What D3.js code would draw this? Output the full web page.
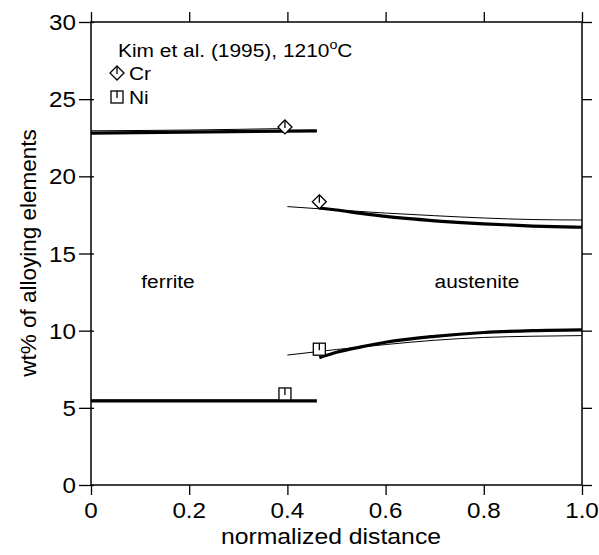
<!DOCTYPE html>
<html><head><meta charset="utf-8">
<script src="https://cdn.jsdelivr.net/npm/d3@7"></script>
<style>body{margin:0;background:#fff}svg{display:block}</style>
</head><body>
<svg id="c" width="599" height="555"></svg>
<script>
const xTicks = [0, 0.2, 0.4, 0.6, 0.8, 1.0];
const xTickLabels = ["0", "0.2", "0.4", "0.6", "0.8", "1.0"];
const yTicks = [0, 5, 10, 15, 20, 25, 30];
const yTickLabels = ["0", "5", "10", "15", "20", "25", "30"];

// Cr
const crFerriteThickX = [0, 0.46];
const crFerriteThickY = [22.8, 22.95];
const crFerriteThinX = [0, 0.2, 0.4];
const crFerriteThinY = [22.95, 23.0, 23.1];
const crAustThinX = [0.4, 0.5, 0.6, 0.7, 0.8, 0.9, 1.0];
const crAustThinY = [18.04, 17.82, 17.62, 17.45, 17.3, 17.2, 17.17];
const crAustThickX = [0.465, 0.5, 0.55, 0.6, 0.7, 0.8, 0.9, 1.0];
const crAustThickY = [17.95, 17.82, 17.6, 17.4, 17.12, 16.92, 16.78, 16.7];
const crPointsX = [0.395, 0.465];
const crPointsY = [23.2, 18.35];

// Ni
const niFerriteThickX = [0, 0.46];
const niFerriteThickY = [5.45, 5.45];
const niFerriteThinX = [0, 0.4];
const niFerriteThinY = [5.5, 5.5];
const niAustThinX = [0.4, 0.5, 0.6, 0.7, 0.8, 0.9, 1.0];
const niAustThinY = [8.42, 8.78, 9.1, 9.38, 9.56, 9.64, 9.68];
const niAustThickX = [0.465, 0.5, 0.55, 0.6, 0.7, 0.8, 0.9, 1.0];
const niAustThickY = [8.25, 8.6, 8.95, 9.25, 9.63, 9.88, 10.0, 10.05];
const niPointsX = [0.395, 0.465];
const niPointsY = [5.9, 8.8];

const svg = d3.select("#c");
const L = 91, R = 582, T = 22, B = 485;
const x = d3.scaleLinear().domain([0, 1]).range([L, R]);
const y = d3.scaleLinear().domain([0, 30]).range([B, T]);
const font = "'Liberation Sans', Arial, Helvetica, sans-serif";
const SX = 1.1;

function label(px, py, txt, size, anchor) {
  return svg.append("text").attr("transform", `translate(${px},${py}) scale(${SX},1)`)
    .attr("text-anchor", anchor || "start").attr("font-family", font).attr("font-size", size)
    .attr("fill", "#000").text(txt);
}

// axes (ticks only; labels drawn separately)
const gB = svg.append("g").attr("transform", `translate(0,${B})`).call(d3.axisBottom(x).tickValues(xTicks).tickSize(10).tickFormat(""));
const gT = svg.append("g").attr("transform", `translate(0,${T})`).call(d3.axisTop(x).tickValues(xTicks).tickSize(10).tickFormat(""));
const gL = svg.append("g").attr("transform", `translate(${L + 3},0)`).call(d3.axisLeft(y).tickValues(yTicks).tickSize(15).tickFormat(""));
const gR = svg.append("g").attr("transform", `translate(${R},0)`).call(d3.axisRight(y).tickValues(yTicks).tickSize(10).tickFormat(""));
[gB, gT, gL, gR].forEach(g => {
  g.select(".domain").remove();
  g.selectAll("line").attr("stroke", "#000").attr("stroke-width", 1.3);
});
svg.append("rect").attr("x", L).attr("y", T).attr("width", R - L).attr("height", B - T)
  .attr("fill", "none").attr("stroke", "#000").attr("stroke-width", 1.5);

xTicks.forEach((v, i) => label(x(v), 518, xTickLabels[i], 22, "middle"));
yTicks.forEach((v, i) => label(76, y(v) + 8, yTickLabels[i], 22, "end"));

const line = d3.line().x(d => x(d[0])).y(d => y(d[1])).curve(d3.curveMonotoneX);
function draw(xs, ys, w) {
  svg.append("path").datum(xs.map((v, i) => [v, ys[i]]))
    .attr("d", line).attr("fill", "none").attr("stroke", "#000").attr("stroke-width", w);
}
draw(crFerriteThinX, crFerriteThinY, 1);
draw(crFerriteThickX, crFerriteThickY, 3.2);
draw(crAustThinX, crAustThinY, 1);
draw(crAustThickX, crAustThickY, 3.2);
draw(niFerriteThinX, niFerriteThinY, 1);
draw(niFerriteThickX, niFerriteThickY, 3.2);
draw(niAustThinX, niAustThinY, 1);
draw(niAustThickX, niAustThickY, 3.2);

function diamond(cx, cy) {
  const r = 7;
  svg.append("path").attr("d", `M${cx},${cy-r}L${cx+r},${cy}L${cx},${cy+r}L${cx-r},${cy}Z`)
    .attr("fill", "#fff").attr("stroke", "#000").attr("stroke-width", 1.3);
  svg.append("line").attr("x1", cx).attr("x2", cx).attr("y1", cy - r).attr("y2", cy + 1)
    .attr("stroke", "#000").attr("stroke-width", 1.3);
}
function square(cx, cy) {
  const r = 6;
  svg.append("rect").attr("x", cx - r).attr("y", cy - r).attr("width", 2 * r).attr("height", 2 * r)
    .attr("fill", "#fff").attr("stroke", "#000").attr("stroke-width", 1.3);
  svg.append("line").attr("x1", cx).attr("x2", cx).attr("y1", cy - r).attr("y2", cy + 1)
    .attr("stroke", "#000").attr("stroke-width", 1.3);
}
crPointsX.forEach((v, i) => diamond(x(v), y(crPointsY[i])));
niPointsX.forEach((v, i) => square(x(v), y(niPointsY[i])));

// legend
const t = svg.append("text").attr("transform", `translate(118,57) scale(${SX},1)`).attr("font-family", font).attr("font-size", 19);
t.append("tspan").text("Kim et al. (1995), 1210");
t.append("tspan").attr("dy", -8).attr("font-size", 13).text("o");
t.append("tspan").attr("dy", 8).text("C");
diamond(117, 73);
label(129, 80, "Cr", 19);
square(117, 97);
label(129, 104, "Ni", 19);

label(168, 288, "ferrite", 19, "middle");
label(477, 288, "austenite", 19, "middle");

label(331, 544, "normalized distance", 22.5, "middle");
svg.append("text").attr("transform", "translate(36,253) rotate(-90)").attr("text-anchor", "middle")
  .attr("font-family", font).attr("font-size", 22.5).text("wt% of alloying elements");
</script>
</body></html>
